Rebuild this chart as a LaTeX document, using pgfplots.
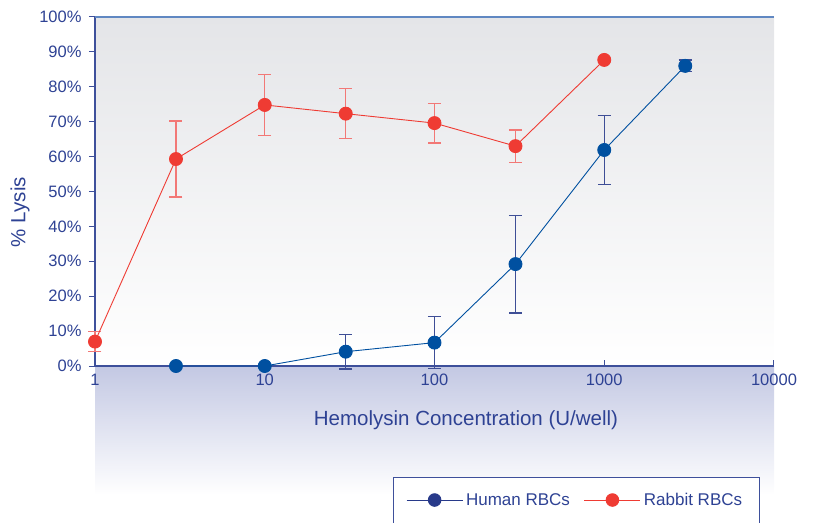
\documentclass[border=0pt]{standalone}
\usepackage{fontspec}
\setmainfont{Liberation Sans}
\usepackage{pgfplots}
\pgfplotsset{compat=1.18}
\definecolor{txtnavy}{RGB}{46,66,148}
\definecolor{axnavy}{RGB}{62,80,155}
\definecolor{topblue}{RGB}{96,136,194}
\definecolor{serblue}{RGB}{0,80,160}
\definecolor{errblue}{RGB}{62,78,150}
\definecolor{legblue}{RGB}{40,58,138}
\definecolor{serred}{RGB}{239,59,51}
\definecolor{errred}{RGB}{242,120,118}
\definecolor{topgray}{RGB}{228,229,232}
\definecolor{lowblue}{RGB}{195,200,227}
\begin{document}
\begin{tikzpicture}
\path[use as bounding box] (-95bp,-157bp) rectangle (719bp,366bp);
\shade[bottom color=white, top color=topgray] (0,0) rectangle (679bp,349bp);
\shade[top color=lowblue, bottom color=white] (0,-129bp) rectangle (679bp,0);
\draw[axnavy, line width=0.9bp, fill=white] (298bp,-111bp) rectangle (664bp,-185bp);
\begin{axis}[
  scale only axis, width=679bp, height=349bp,
  at={(0,0)}, anchor=south west,
  xmode=log, xmin=1, xmax=10000, ymin=0, ymax=100,
  axis x line*=bottom, axis y line*=left,
  axis line style={-, axnavy, line width=1.1bp},
  xtick={1,10,100,1000,10000},
  xticklabels={1,10,100,1000,10000},
  xminorticks=false,
  ytick={0,10,...,100},
  yticklabels={0\%,10\%,20\%,30\%,40\%,50\%,60\%,70\%,80\%,90\%,100\%},
  tick align=inside,
  major tick length=6bp,
  tick style={axnavy, line width=1bp},
  ytick style={xshift=-6bp},
  yticklabel style={xshift=-10bp},
  xticklabel style={yshift=-4.5bp},
  ticklabel style={font=\fontsize{16.5bp}{19bp}\selectfont, text=txtnavy},
  xlabel={Hemolysin Concentration (U/well)},
  ylabel={\% Lysis},
  label style={font=\fontsize{20.5bp}{24bp}\selectfont, text=txtnavy},
  xlabel style={at={(axis description cs:0.5464,-0.1547)}, anchor=center},
  ylabel style={at={(axis description cs:-0.1105,0.441)}, anchor=center, rotate=0},
  clip=false,
  legend columns=2,
  legend style={at={(axis description cs:0.458,-0.384)}, anchor=west,
    draw=none, fill=none, inner sep=0pt,
    font=\fontsize{17bp}{20bp}\selectfont, text=txtnavy,
    /tikz/every even column/.append style={column sep=11bp},
    nodes={inner xsep=3bp}},
  legend image code/.code={
    \draw[#1, mark=none] (0bp,0bp) -- (56bp,0bp);
    \path[#1] plot coordinates {(28bp,0bp)};
  },
]
% error bars (drawn first)
\addplot[only marks, mark=none, forget plot,
  error bars/.cd, y dir=both, y explicit,
  error bar style={errblue, line width=1.3bp},
  error mark options={rotate=90, errblue, line width=1.3bp, mark size=6.5bp}]
coordinates {
  (30,4.1) +- (0,5.0)
  (100,6.7) +- (0,7.5)
  (300,29.2) +- (0,14.0)
  (1000,61.9) +- (0,9.8)
  (3000,86.0) +- (0,1.7)
};
\addplot[only marks, mark=none, forget plot,
  error bars/.cd, y dir=both, y explicit,
  error bar style={errred, line width=1.3bp},
  error mark options={rotate=90, errred, line width=1.3bp, mark size=6.5bp}]
coordinates {
  (1,7.0) +- (0,2.9)
  (3,59.3) +- (0,10.9)
  (10,74.8) +- (0,8.8)
  (30,72.3) +- (0,7.2)
  (100,69.6) +- (0,5.7)
  (300,63.0) +- (0,4.6)
};
% series
\addplot[serblue, line width=0.9bp, mark=*, mark size=6.5bp,
  mark options={fill=serblue, draw=none}, forget plot]
coordinates {(3,0) (10,0) (30,4.1) (100,6.7) (300,29.2) (1000,61.9) (3000,86.0)};
\addplot[serred, line width=0.9bp, mark=*, mark size=6.5bp,
  mark options={fill=serred, draw=none}, forget plot]
coordinates {(1,7.0) (3,59.3) (10,74.8) (30,72.3) (100,69.6) (300,63.0) (1000,87.7)};
\addlegendimage{legblue, line width=0.9bp, mark=*, mark size=6.3bp, mark options={fill=legblue, draw=none}}
\addlegendentry{Human RBCs}
\addlegendimage{serred, line width=0.9bp, mark=*, mark size=6.3bp, mark options={fill=serred, draw=none}}
\addlegendentry{Rabbit RBCs}
\end{axis}
\draw[topblue, line width=1.3bp] (0,349bp) -- (679bp,349bp);
\end{tikzpicture}
\end{document}
